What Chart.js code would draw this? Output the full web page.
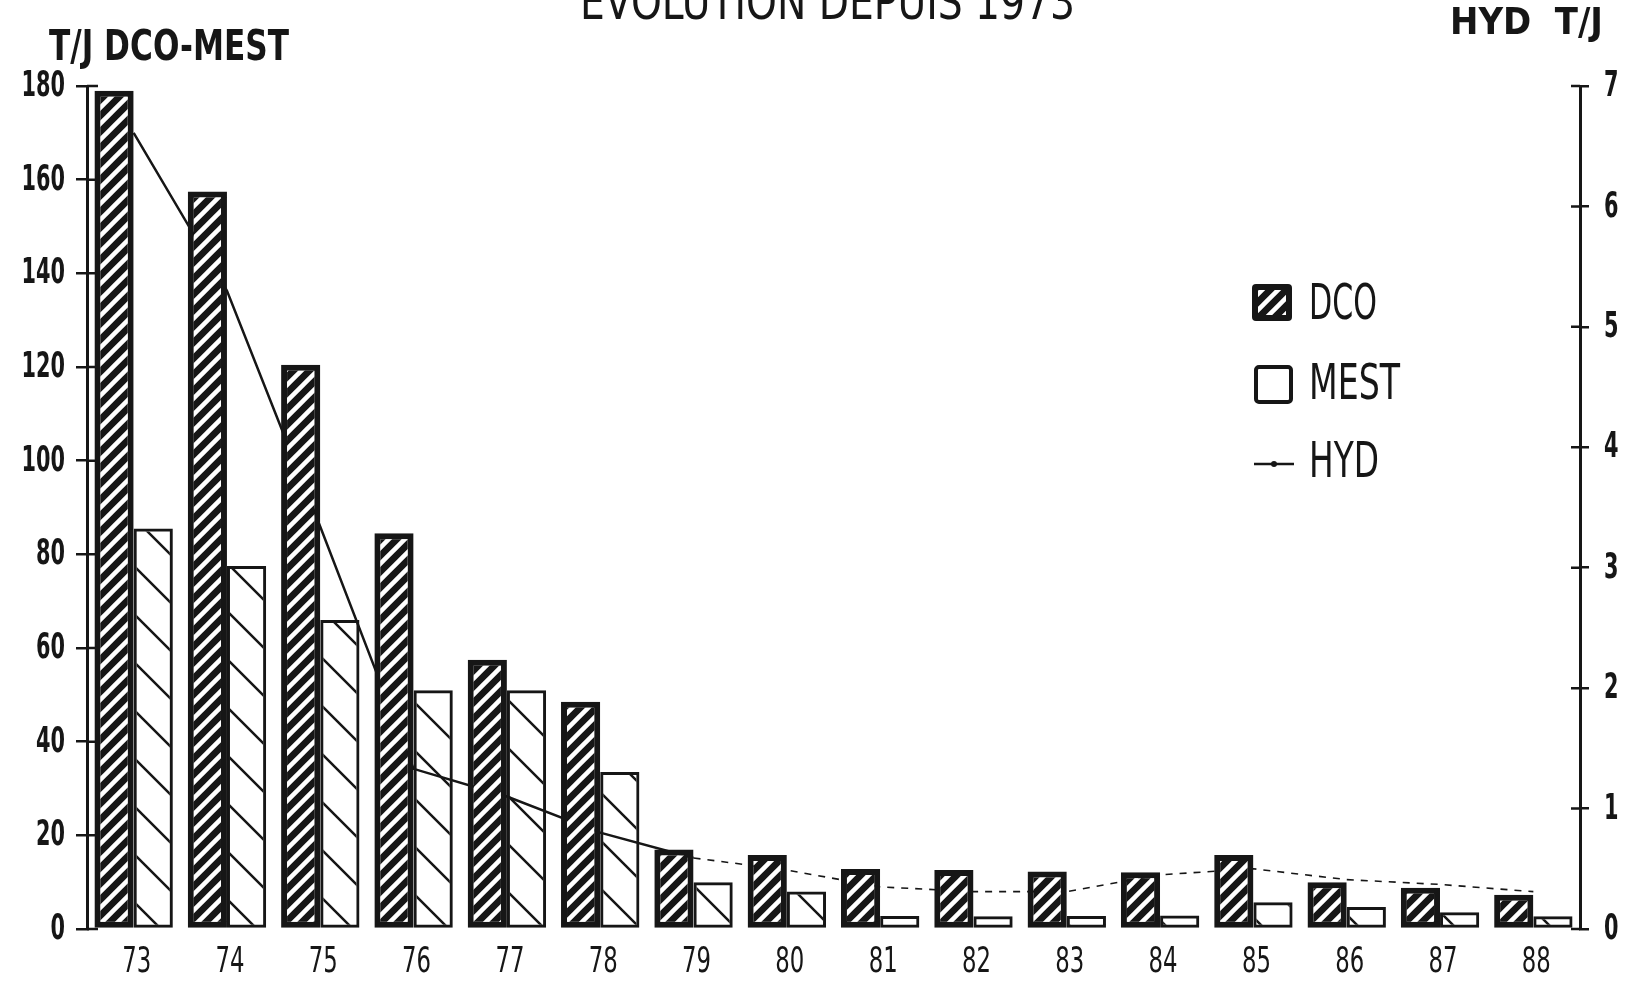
<!DOCTYPE html>
<html>
<head>
<meta charset="utf-8">
<title>Evolution depuis 1973</title>
<script src="https://cdn.jsdelivr.net/npm/chart.js@4.4.1/dist/chart.umd.min.js"></script>
<style>
  html, body { margin: 0; padding: 0; background: #fff; }
  canvas { display: block; }
</style>
</head>
<body>
<canvas id="chart" width="1636" height="998"></canvas>
<script>
// values
const years = ['73', '74', '75', '76', '77', '78', '79', '80', '81', '82', '83', '84', '85', '86', '87', '88'];
const dcoValues = [179, 157.5, 120.5, 84.5, 57.5, 48.5, 17, 15.8, 12.8, 12.6, 12.3, 12.1, 15.8, 10, 8.8, 7.3];
const mestValues = [85.5, 77.5, 66, 51, 51, 33.5, 10, 8, 2.8, 2.7, 2.8, 2.9, 5.7, 4.7, 3.6, 2.7];
const hydValues = [6.61, 5.3, 3.34, 1.33, 1.1, 0.8, 0.59, 0.49, 0.35, 0.31, 0.31, 0.45, 0.5, 0.41, 0.37, 0.31];
const leftTicks = [0, 20, 40, 60, 80, 100, 120, 140, 160, 180];
const rightTicks = [0, 1, 2, 3, 4, 5, 6, 7];

const INK = '#161616';
const FONT = "'DejaVu Sans', 'Liberation Sans', sans-serif";

// black bar with white "/" stripes
function makeDcoPattern() {
    const s = 16;
    const c = document.createElement('canvas');
    c.width = s; c.height = s;
    const g = c.getContext('2d');
    g.fillStyle = INK;
    g.fillRect(0, 0, s, s);
    g.strokeStyle = '#fff';
    g.lineWidth = 4.5;
    g.beginPath();
    g.moveTo(-2, s + 2); g.lineTo(s + 2, -2);
    g.moveTo(-6, 6); g.lineTo(6, -6);
    g.moveTo(s - 6, s + 6); g.lineTo(s + 6, s - 6);
    g.stroke();
    return g.createPattern(c, 'repeat');
}

// open bar with wide "\" lines
function makeMestPattern() {
    const s = 48;
    const c = document.createElement('canvas');
    c.width = s; c.height = s;
    const g = c.getContext('2d');
    g.strokeStyle = INK;
    g.lineWidth = 2.5;
    g.beginPath();
    g.moveTo(-10, -10); g.lineTo(s + 10, s + 10);
    g.moveTo(s - 10, -10); g.lineTo(s + 10, 10);
    g.moveTo(-10, s - 10); g.lineTo(10, s + 10);
    g.stroke();
    return g.createPattern(c, 'repeat');
}

const dcoPattern = makeDcoPattern();
const mestPattern = makeMestPattern();

// the scan uses a very narrow plotter font: squeeze text horizontally
function fitText(ctx, text, x, y, font, width) {
    ctx.font = font;
    const w = ctx.measureText(text).width;
    ctx.save();
    ctx.translate(x, y);
    ctx.scale(width / w, 1);
    ctx.fillText(text, 0, 0);
    ctx.restore();
}

function squeezeText(ctx, text, x, y, font, digitWidth) {
    ctx.font = font;
    const sx = digitWidth / ctx.measureText('0').width;
    ctx.save();
    ctx.translate(x, y);
    ctx.scale(sx, 1);
    ctx.fillText(text, 0, 0);
    ctx.restore();
}

const decorations = {
    id: 'decorations',
    afterDraw(chart) {
        const ctx = chart.ctx;
        const { left, right, bottom } = chart.chartArea;
        const xs = chart.scales.x;
        const yL = chart.scales.y;
        const yR = chart.scales.y1;

        ctx.save();
        // inner half of the crossing tick marks
        ctx.strokeStyle = INK;
        ctx.lineWidth = 2.5;
        ctx.beginPath();
        yL.ticks.forEach(t => {
            const py = yL.getPixelForValue(t.value);
            ctx.moveTo(left, py); ctx.lineTo(left + 11, py);
        });
        yR.ticks.forEach(t => {
            const py = yR.getPixelForValue(t.value);
            ctx.moveTo(right, py); ctx.lineTo(right - 9, py);
        });
        ctx.stroke();

        ctx.fillStyle = INK;
        ctx.textBaseline = 'middle';

        // tick labels
        ctx.textAlign = 'right';
        yL.ticks.forEach(t => {
            squeezeText(ctx, String(t.value), left - 22, yL.getPixelForValue(t.value) + 1, 'bold 35px ' + FONT, 14.5);
        });
        ctx.textAlign = 'left';
        yR.ticks.forEach(t => {
            squeezeText(ctx, String(t.value), right + 24, yR.getPixelForValue(t.value) + 1, 'bold 35px ' + FONT, 14.5);
        });
        ctx.textAlign = 'center';
        years.forEach((label, i) => {
            squeezeText(ctx, label, xs.getPixelForValue(i) + 3, bottom + 34, '35px ' + FONT, 14.5);
        });

        ctx.textAlign = 'left';
        ctx.textBaseline = 'alphabetic';
        fitText(ctx, 'EVOLUTION DEPUIS 1973', 580, 19, '50px ' + FONT, 495);
        fitText(ctx, 'T/J DCO-MEST', 49, 60, 'bold 42px ' + FONT, 240);
        fitText(ctx, 'HYD  T/J', 1450, 34, 'bold 37px ' + FONT, 153);

        // legend
        ctx.beginPath();
        ctx.roundRect(1252, 284, 40, 37, 4);
        ctx.fillStyle = INK;
        ctx.fill();
        ctx.fillStyle = dcoPattern;
        ctx.fillRect(1258, 290, 28, 25);

        ctx.beginPath();
        ctx.roundRect(1256, 367, 35, 35, 3);
        ctx.lineWidth = 4;
        ctx.strokeStyle = INK;
        ctx.stroke();

        ctx.beginPath();
        ctx.lineWidth = 2.5;
        ctx.moveTo(1254, 464); ctx.lineTo(1294, 464);
        ctx.stroke();
        ctx.beginPath();
        ctx.arc(1274, 464, 3, 0, Math.PI * 2);
        ctx.fillStyle = INK;
        ctx.fill();

        fitText(ctx, 'DCO', 1309, 319, '50px ' + FONT, 68);
        fitText(ctx, 'MEST', 1309, 399, '50px ' + FONT, 91);
        fitText(ctx, 'HYD', 1309, 477, '50px ' + FONT, 70);
        ctx.restore();
    }
};

new Chart(document.getElementById('chart'), {
    type: 'bar',
    data: {
        labels: years,
        datasets: [
            {
                label: 'DCO',
                data: dcoValues,
                yAxisID: 'y',
                backgroundColor: dcoPattern,
                borderColor: INK,
                borderWidth: 6,
                borderSkipped: false,
                categoryPercentage: 0.84,
                barPercentage: 1.0,
                order: 1
            },
            {
                label: 'MEST',
                data: mestValues,
                yAxisID: 'y',
                backgroundColor: mestPattern,
                borderColor: INK,
                borderWidth: 3,
                borderSkipped: false,
                categoryPercentage: 0.84,
                barPercentage: 1.0,
                order: 2
            },
            {
                type: 'line',
                label: 'HYD',
                data: hydValues,
                yAxisID: 'y1',
                borderColor: INK,
                borderWidth: 2.5,
                pointRadius: 0,
                tension: 0,
                fill: false,
                order: 3,
                segment: {
                    borderDash: c => c.p0DataIndex >= 6 ? [7, 7] : undefined,
                    borderWidth: c => c.p0DataIndex >= 6 ? 1.6 : undefined
                }
            }
        ]
    },
    options: {
        responsive: false,
        animation: false,
        layout: { padding: { left: 0, right: 0, top: 86, bottom: 0 } },
        plugins: {
            legend: { display: false },
            tooltip: { enabled: false },
            title: { display: false }
        },
        scales: {
            x: {
                offset: true,
                grid: { display: false, drawTicks: false },
                border: { display: false },
                ticks: { display: false },
                afterFit: s => { s.height = 69; }
            },
            y: {
                position: 'left',
                min: 0,
                max: 180,
                afterBuildTicks: s => { s.ticks = leftTicks.map(v => ({ value: v })); },
                grid: { drawOnChartArea: false, drawTicks: true, tickLength: 11, color: INK, lineWidth: 2.5 },
                border: { display: true, color: INK, width: 3 },
                ticks: { display: false },
                afterFit: s => { s.width = 87; }
            },
            y1: {
                position: 'right',
                min: 0,
                max: 7,
                afterBuildTicks: s => { s.ticks = rightTicks.map(v => ({ value: v })); },
                grid: { drawOnChartArea: false, drawTicks: true, tickLength: 9, color: INK, lineWidth: 2.5 },
                border: { display: true, color: INK, width: 3 },
                ticks: { display: false },
                afterFit: s => { s.width = 56; }
            }
        }
    },
    plugins: [decorations]
});
</script>
</body>
</html>
